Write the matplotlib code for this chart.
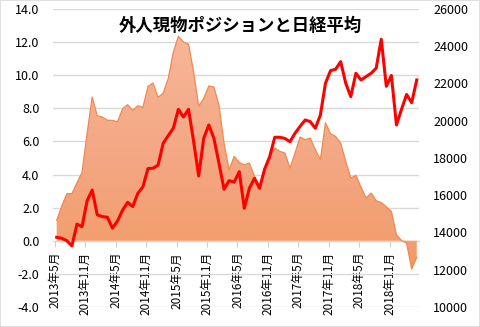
import numpy as np
import matplotlib.pyplot as plt
from matplotlib.colors import LinearSegmentedColormap
from matplotlib.patches import Rectangle

plt.rcParams['font.family'] = ['Noto Sans CJK JP', 'DejaVu Sans']

# 2013年5月 .. 2019年4月, monthly
tick_labels = ['2013年5月', '2013年11月', '2014年5月', '2014年11月',
               '2015年5月', '2015年11月', '2016年5月', '2016年11月',
               '2017年5月', '2017年11月', '2018年5月', '2018年11月']

# foreign cash position (left axis)
position = [1.23, 2.1, 2.84, 2.85, 3.5, 4.13, 6.5, 8.68, 7.55, 7.47,
            7.28, 7.27, 7.19, 7.98, 8.22, 7.87, 8.16, 8.05, 9.32, 9.53,
            8.66, 8.92, 9.8, 11.4, 12.35, 12.0, 11.88, 10.2, 8.13, 8.6,
            9.35, 9.29, 8.2, 5.9, 4.29, 5.1, 4.73, 4.59, 4.69, 3.89,
            3.3, 4.39, 5.0, 5.6, 5.4, 5.3, 4.39, 5.3, 6.27, 6.1,
            6.2, 5.5, 4.9, 7.13, 6.47, 6.3, 5.9, 4.8, 3.79, 3.95,
            3.25, 2.58, 2.88, 2.42, 2.31, 2.05, 1.77, 0.36, 0.02, -0.14,
            -1.71, -1.0]

# nikkei average (right axis)
nikkei = [13740, 13690, 13560, 13280, 14450, 14310, 15700, 16280, 14950, 14850,
          14820, 14230, 14620, 15200, 15620, 15390, 16100, 16450, 17430, 17450,
          17620, 18790, 19200, 19600, 20616, 20200, 20616, 18900, 17035, 19059,
          19773, 19059, 17717, 16320, 16782, 16700, 17266, 15300, 16374, 16911,
          16374, 17400, 18071, 19113, 19113, 19050, 18877, 19327, 19700, 20042,
          19951, 19596, 20310, 22013, 22690, 22764, 23172, 22013, 21294, 22550,
          22190, 22367, 22550, 22818, 24375, 21850, 22430, 19773, 20620, 21410,
          20971, 22190]

x = np.arange(len(position))
xmin, xmax = -0.67, 71.5

fig = plt.figure(figsize=(4.8, 3.27), dpi=100)
fig.patches.append(Rectangle((0, 0), 1, 1, transform=fig.transFigure,
                             fill=False, edgecolor='#D9D9D9', lw=1.2))
ax = fig.add_axes([0.111, 0.0612, 0.7625, 0.9113])

# gradient filled area
poly = ax.fill_between(x, position, 0, facecolor='none', edgecolor='none')
cmap = LinearSegmentedColormap.from_list('pos', ['#F1975F', '#F4A783', '#F6BA9D'])
grad = np.linspace(0, 1, 256).reshape(-1, 1)
img = ax.imshow(grad, extent=[xmin, xmax, -4, 14], origin='lower',
                aspect='auto', cmap=cmap, zorder=1)
img.set_clip_path(poly.get_paths()[0], transform=ax.transData)
ax.plot(x, position, color='#EF8A50', lw=0.9, zorder=2)

ax.set_xlim(xmin, xmax)
ax.set_ylim(-4, 14)
ax.set_yticks(np.arange(-4, 14.1, 2))
ax.set_yticklabels([f'{v:.1f}' for v in np.arange(-4, 14.1, 2)])
ax.grid(axis='y', color='#D9D9D9', lw=1)
ax.set_axisbelow(True)
for s in ['top', 'right', 'left']:
    ax.spines[s].set_visible(False)
ax.spines['bottom'].set_position(('data', 0))
ax.spines['bottom'].set_color('#D0D0D0')
ax.spines['bottom'].set_zorder(0.5)
ax.set_xticks(np.arange(0, 67, 6) - 0.35)
ax.set_xticklabels(tick_labels, rotation=90, fontsize=8.5)
ax.tick_params(axis='x', length=4, color='#D0D0D0', pad=4)
ax.tick_params(axis='y', length=0, pad=10, labelsize=9)

ax2 = ax.twinx()
ax2.plot(x, nikkei, color='#FF0000', lw=2.2, zorder=3)
ax2.set_ylim(10000, 26000)
ax2.set_yticks(np.arange(10000, 26001, 2000))
ax2.tick_params(axis='y', length=0, pad=10, labelsize=9)
for s in ax2.spines.values():
    s.set_visible(False)

fig.text(0.5, 1 - 26 / 327, '外人現物ポジションと日経平均', ha='center', va='center',
         fontsize=12.5, fontweight='bold')

fig.savefig('out.png', dpi=100)
